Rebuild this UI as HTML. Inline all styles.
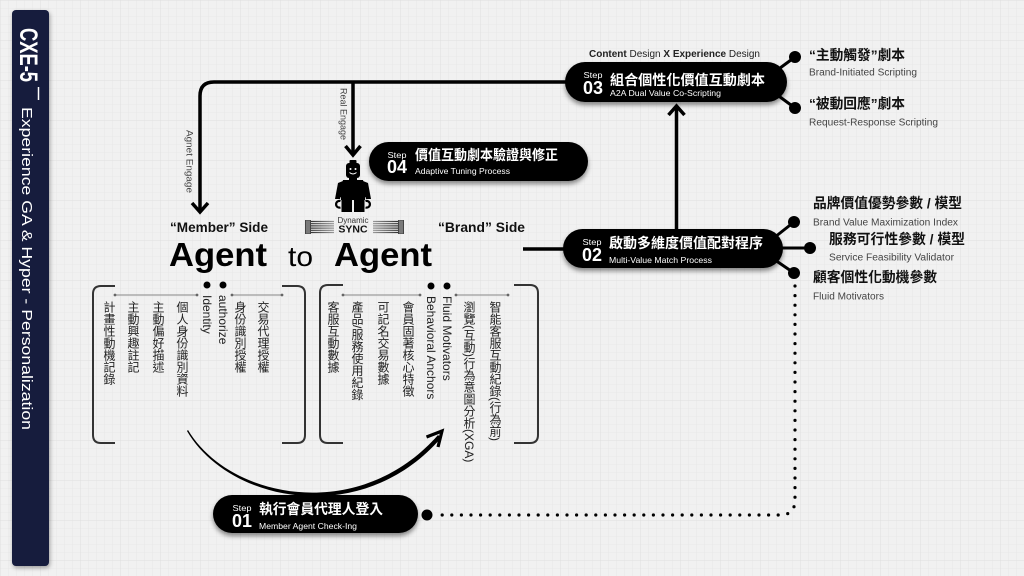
<!DOCTYPE html>
<html>
<head>
<meta charset="utf-8">
<style>
  html,body{margin:0;padding:0;background:#f0f0f0;}
  #wrap{position:relative;width:1024px;height:576px;overflow:hidden;}
  svg{position:absolute;left:0;top:0;}
  svg text{font-family:"Liberation Sans","Noto Sans CJK TC",sans-serif;}
  .v{position:absolute;writing-mode:vertical-rl;font-family:"Liberation Sans","Noto Sans CJK TC",sans-serif;font-size:12px;line-height:12px;width:12px;color:#222;white-space:nowrap;}
</style>
</head>
<body>
<div id="wrap">
<svg width="1024" height="576" viewBox="0 0 1024 576" xmlns="http://www.w3.org/2000/svg">
  <defs>
    <pattern id="g" width="8" height="8" patternUnits="userSpaceOnUse">
      <path d="M8 0H0V8" fill="none" stroke="#e2e2e2" stroke-width="0.6"/>
    </pattern>
    <pattern id="g2" width="40" height="40" patternUnits="userSpaceOnUse">
      <path d="M40 0H0V40" fill="none" stroke="#dcdcdc" stroke-width="0.7"/>
    </pattern>
    <filter id="sh" x="-20%" y="-40%" width="140%" height="190%">
      <feDropShadow dx="0" dy="3" stdDeviation="2.5" flood-color="#000" flood-opacity="0.45"/>
    </filter>
    <filter id="sh2" x="-50%" y="-5%" width="200%" height="110%">
      <feDropShadow dx="1" dy="2" stdDeviation="2" flood-color="#000" flood-opacity="0.35"/>
    </filter>
    <linearGradient id="cab" gradientUnits="userSpaceOnUse" x1="311" y1="0" x2="334" y2="0">
      <stop offset="0" stop-color="#333"/>
      <stop offset="1" stop-color="#999"/>
    </linearGradient>
    <linearGradient id="cab2" gradientUnits="userSpaceOnUse" x1="373" y1="0" x2="398" y2="0">
      <stop offset="0" stop-color="#999"/>
      <stop offset="1" stop-color="#333"/>
    </linearGradient>
  </defs>

  <rect width="1024" height="576" fill="#f1f1f1"/>
  <rect width="1024" height="576" fill="url(#g)"/>
  <rect width="1024" height="576" fill="url(#g2)"/>

  <!-- Sidebar -->
  <rect x="12" y="10" width="37" height="556" rx="4" fill="#121a3d" filter="url(#sh2)"/>
  <text transform="translate(20,28) rotate(90)" font-size="25" font-weight="bold" fill="#fff" textLength="54" lengthAdjust="spacingAndGlyphs">CXE-5</text>
  <line x1="38.5" y1="87" x2="38.5" y2="100" stroke="#fff" stroke-width="1.5"/>
  <text transform="translate(22,107) rotate(90)" font-size="15" fill="#fff" textLength="323" lengthAdjust="spacingAndGlyphs">Experience GA &amp; Hyper - Personalization</text>

  <!-- Top connector -->
  <path d="M200,211 V96 Q200,82 214,82 H568" fill="none" stroke="#000" stroke-width="3.5"/>
  <polyline points="192,203 200,212 208,203" fill="none" stroke="#000" stroke-width="3.5"/>
  <line x1="353" y1="82" x2="353" y2="154" stroke="#000" stroke-width="3.5"/>
  <polyline points="345.5,146 353,155 360.5,146" fill="none" stroke="#000" stroke-width="3.5"/>
  <text transform="translate(186.5,130) rotate(90)" font-size="9" fill="#444" textLength="63" lengthAdjust="spacingAndGlyphs">Agnet Engage</text>
  <text transform="translate(340.5,88) rotate(90)" font-size="9" fill="#444" textLength="52" lengthAdjust="spacingAndGlyphs">Real Engage</text>

  <!-- Step02 -> Step03 arrow -->
  <line x1="676.5" y1="231" x2="676.5" y2="107" stroke="#000" stroke-width="3.5"/>
  <polyline points="668.5,115 676.5,106 684.5,115" fill="none" stroke="#000" stroke-width="3.5"/>

  <!-- Step02 left line -->
  <line x1="523" y1="249" x2="566" y2="249" stroke="#000" stroke-width="3.5"/>

  <!-- Step03 right connectors -->
  <line x1="776" y1="71" x2="795" y2="57" stroke="#000" stroke-width="3"/>
  <circle cx="795" cy="57" r="6" fill="#000"/>
  <line x1="776" y1="94" x2="795" y2="108" stroke="#000" stroke-width="3"/>
  <circle cx="795" cy="108" r="6" fill="#000"/>

  <!-- Step02 right connectors -->
  <line x1="775" y1="237" x2="794" y2="222" stroke="#000" stroke-width="3"/>
  <circle cx="794" cy="222" r="6" fill="#000"/>
  <line x1="782" y1="248" x2="810" y2="248" stroke="#000" stroke-width="3"/>
  <circle cx="810" cy="248" r="6" fill="#000"/>
  <line x1="775" y1="260" x2="794" y2="273" stroke="#000" stroke-width="3"/>
  <circle cx="794" cy="273" r="6" fill="#000"/>

  <!-- Dotted line -->
  <path d="M795,286 V500 Q795,515 780,515 H434" fill="none" stroke="#000" stroke-width="3.2" stroke-linecap="round" stroke-dasharray="0 9.6"/>
  <circle cx="427" cy="515" r="5.5" fill="#000"/>

  <!-- Step pills -->
  <rect x="565" y="62" width="222" height="40" rx="20" fill="#000" filter="url(#sh)"/>
  <rect x="369" y="142" width="219" height="39" rx="19.5" fill="#000" filter="url(#sh)"/>
  <rect x="563" y="229" width="220" height="39" rx="19.5" fill="#000" filter="url(#sh)"/>
  <rect x="213" y="495" width="205" height="38" rx="19" fill="#000" filter="url(#sh)"/>

  <!-- Step 03 text -->
  <text x="589" y="51" font-size="10" fill="#222" dy="6" textLength="171" lengthAdjust="spacingAndGlyphs"><tspan font-weight="bold">Content</tspan> Design <tspan font-weight="bold">X</tspan> <tspan font-weight="bold">Experience</tspan> Design</text>
  <text x="583.5" y="78" font-size="8.5" fill="#fff" textLength="19" lengthAdjust="spacingAndGlyphs">Step</text>
  <text x="583" y="94" font-size="18" font-weight="bold" fill="#fff" textLength="20" lengthAdjust="spacingAndGlyphs">03</text>
  <text x="610" y="85" font-size="14" font-weight="bold" fill="#fff" textLength="155" lengthAdjust="spacingAndGlyphs">組合個性化價值互動劇本</text>
  <text x="610" y="96" font-size="8.5" fill="#fff" textLength="111" lengthAdjust="spacingAndGlyphs">A2A Dual Value Co-Scripting</text>

  <!-- Step 04 text -->
  <text x="387.5" y="158" font-size="8.5" fill="#fff" textLength="19" lengthAdjust="spacingAndGlyphs">Step</text>
  <text x="387" y="173" font-size="18" font-weight="bold" fill="#fff" textLength="20" lengthAdjust="spacingAndGlyphs">04</text>
  <text x="415" y="160" font-size="14" font-weight="bold" fill="#fff" textLength="143" lengthAdjust="spacingAndGlyphs">價值互動劇本驗證與修正</text>
  <text x="415" y="174" font-size="8.5" fill="#fff" textLength="95" lengthAdjust="spacingAndGlyphs">Adaptive Tuning Process</text>

  <!-- Step 02 text -->
  <text x="582.5" y="245" font-size="8.5" fill="#fff" textLength="19" lengthAdjust="spacingAndGlyphs">Step</text>
  <text x="582" y="261" font-size="18" font-weight="bold" fill="#fff" textLength="20" lengthAdjust="spacingAndGlyphs">02</text>
  <text x="609" y="248" font-size="14" font-weight="bold" fill="#fff" textLength="154" lengthAdjust="spacingAndGlyphs">啟動多維度價值配對程序</text>
  <text x="609" y="263" font-size="8.5" fill="#fff" textLength="103" lengthAdjust="spacingAndGlyphs">Multi-Value Match Process</text>

  <!-- Step 01 text -->
  <text x="232.5" y="511" font-size="8.5" fill="#fff" textLength="19" lengthAdjust="spacingAndGlyphs">Step</text>
  <text x="232" y="527" font-size="18" font-weight="bold" fill="#fff" textLength="20" lengthAdjust="spacingAndGlyphs">01</text>
  <text x="259" y="514" font-size="14" font-weight="bold" fill="#fff" textLength="124" lengthAdjust="spacingAndGlyphs">執行會員代理人登入</text>
  <text x="259" y="529" font-size="8.5" fill="#fff" textLength="98" lengthAdjust="spacingAndGlyphs">Member Agent Check-Ing</text>

  <!-- Right labels Step 03 -->
  <text x="809" y="60" font-size="14" font-weight="bold" fill="#111" textLength="96" lengthAdjust="spacingAndGlyphs">“主動觸發”劇本</text>
  <text x="809" y="75.5" font-size="10" fill="#444" textLength="108" lengthAdjust="spacingAndGlyphs">Brand-Initiated Scripting</text>
  <text x="809" y="108.5" font-size="14" font-weight="bold" fill="#111" textLength="96" lengthAdjust="spacingAndGlyphs">“被動回應”劇本</text>
  <text x="809" y="125.5" font-size="10" fill="#444" textLength="129" lengthAdjust="spacingAndGlyphs">Request-Response Scripting</text>

  <!-- Right labels Step 02 -->
  <text x="813" y="208" font-size="14" font-weight="bold" fill="#111" textLength="149" lengthAdjust="spacingAndGlyphs">品牌價值優勢參數 / 模型</text>
  <text x="813" y="225.5" font-size="10" fill="#444" textLength="145" lengthAdjust="spacingAndGlyphs">Brand Value Maximization Index</text>
  <text x="829" y="244" font-size="14" font-weight="bold" fill="#111" textLength="136" lengthAdjust="spacingAndGlyphs">服務可行性參數 / 模型</text>
  <text x="829" y="260.5" font-size="10" fill="#444" textLength="125" lengthAdjust="spacingAndGlyphs">Service Feasibility Validator</text>
  <text x="813" y="282" font-size="14" font-weight="bold" fill="#111" textLength="124" lengthAdjust="spacingAndGlyphs">顧客個性化動機參數</text>
  <text x="813" y="299.5" font-size="10" fill="#444" textLength="71" lengthAdjust="spacingAndGlyphs">Fluid Motivators</text>

  <!-- Side headings -->
  <text x="170" y="232" font-size="14" font-weight="bold" fill="#111" textLength="98" lengthAdjust="spacingAndGlyphs">“Member” Side</text>
  <text x="438" y="232" font-size="14" font-weight="bold" fill="#111" textLength="87" lengthAdjust="spacingAndGlyphs">“Brand” Side</text>

  <!-- Agent to Agent -->
  <text x="169" y="266" font-size="33" font-weight="bold" fill="#000" textLength="98" lengthAdjust="spacingAndGlyphs">Agent</text>
  <text x="288" y="266" font-size="28" fill="#000" textLength="25" lengthAdjust="spacingAndGlyphs">to</text>
  <text x="334" y="266" font-size="33" font-weight="bold" fill="#000" textLength="98" lengthAdjust="spacingAndGlyphs">Agent</text>

  <!-- Lego figure -->
  <g fill="#000">
    <rect x="349.5" y="160" width="7" height="4" rx="1"/>
    <rect x="346" y="163" width="14" height="15" rx="3"/>
    <rect x="349" y="177" width="8" height="3"/>
    <path d="M343,180 H363 L367,197 H339 Z"/>
    <path d="M343,181 L338,183 L335,199 L340,199 L343.5,187 Z"/>
    <path d="M363,181 L368,183 L371,199 L366,199 L362.5,187 Z"/>
    <rect x="341" y="196" width="24" height="4"/>
    <rect x="341.5" y="199" width="10.5" height="13"/>
    <rect x="354" y="199" width="10.5" height="13"/>
  </g>
  <path d="M340.5,201 A3.4,3.4 0 1 0 340.5,207.5" fill="none" stroke="#000" stroke-width="2.2"/>
  <path d="M365.5,201 A3.4,3.4 0 1 1 365.5,207.5" fill="none" stroke="#000" stroke-width="2.2"/>
  <circle cx="350.5" cy="169" r="1" fill="#fff"/>
  <circle cx="355.5" cy="169" r="1" fill="#fff"/>
  <path d="M349.5,172.5 Q353,175.5 356.5,172.5" fill="none" stroke="#fff" stroke-width="0.9"/>

  <!-- SYNC cables -->
  <g>
    <rect x="305" y="220" width="6" height="14" fill="#444"/>
    <line x1="307" y1="220.5" x2="307" y2="233.5" stroke="#ddd" stroke-width="0.7"/>
    <line x1="309" y1="220.5" x2="309" y2="233.5" stroke="#ddd" stroke-width="0.7"/>
    <g stroke="url(#cab)" stroke-width="1.2">
      <line x1="311" y1="221.5" x2="334" y2="221.5"/>
      <line x1="311" y1="223.7" x2="334" y2="223.7"/>
      <line x1="311" y1="225.9" x2="334" y2="225.9"/>
      <line x1="311" y1="228.1" x2="334" y2="228.1"/>
      <line x1="311" y1="230.3" x2="334" y2="230.3"/>
      <line x1="311" y1="232.5" x2="334" y2="232.5"/>
    </g>
    <rect x="398" y="220" width="6" height="14" fill="#444"/>
    <line x1="400" y1="220.5" x2="400" y2="233.5" stroke="#ddd" stroke-width="0.7"/>
    <line x1="402" y1="220.5" x2="402" y2="233.5" stroke="#ddd" stroke-width="0.7"/>
    <g stroke="url(#cab2)" stroke-width="1.2">
      <line x1="373" y1="221.5" x2="398" y2="221.5"/>
      <line x1="373" y1="223.7" x2="398" y2="223.7"/>
      <line x1="373" y1="225.9" x2="398" y2="225.9"/>
      <line x1="373" y1="228.1" x2="398" y2="228.1"/>
      <line x1="373" y1="230.3" x2="398" y2="230.3"/>
      <line x1="373" y1="232.5" x2="398" y2="232.5"/>
    </g>
  </g>
  <text x="353" y="223" font-size="8" fill="#333" text-anchor="middle">Dynamic</text>
  <text x="353" y="232.5" font-size="10.5" font-weight="bold" fill="#111" text-anchor="middle">SYNC</text>

  <!-- Brackets -->
  <g fill="none" stroke="#333" stroke-width="2">
    <path d="M115,286 H101 Q93,286 93,294 V435 Q93,443 101,443 H115"/>
    <path d="M282,286 H297 Q305,286 305,294 V435 Q305,443 297,443 H282"/>
    <path d="M343,285 H328 Q320,285 320,293 V435 Q320,443 328,443 H343"/>
    <path d="M514,285 H530 Q538,285 538,293 V435 Q538,443 530,443 H514"/>
  </g>
  <g stroke="#888" stroke-width="1">
    <line x1="115" y1="295" x2="197" y2="295"/>
    <line x1="232" y1="295" x2="282" y2="295"/>
    <line x1="343" y1="295" x2="420" y2="295"/>
    <line x1="456" y1="295" x2="508" y2="295"/>
  </g>
  <g fill="#666">
    <circle cx="115" cy="295" r="1.4"/><circle cx="197" cy="295" r="1.4"/>
    <circle cx="232" cy="295" r="1.4"/><circle cx="282" cy="295" r="1.4"/>
    <circle cx="343" cy="295" r="1.4"/><circle cx="420" cy="295" r="1.4"/>
    <circle cx="456" cy="295" r="1.4"/><circle cx="508" cy="295" r="1.4"/>
  </g>
  <g fill="#000">
    <circle cx="207" cy="285" r="3.5"/>
    <circle cx="223" cy="285" r="3.5"/>
    <circle cx="431" cy="286" r="3.5"/>
    <circle cx="447" cy="286" r="3.5"/>
  </g>

  <!-- Curved arrow -->
  <path d="M188,430 C230,500 360,524 438,435 L441,438 C362,529 229,503 187,431 Z" fill="#000"/>
  <polyline points="426.5,437 442,431 438,447" fill="none" stroke="#000" stroke-width="3.2" stroke-linejoin="miter"/>
</svg>

<!-- Left group vertical text -->
<div class="v" style="left:257px;top:301px">交易代理授權</div>
<div class="v" style="left:234px;top:301px">身份識別授權</div>
<div class="v" style="left:217px;top:295px">authorize</div>
<div class="v" style="left:201px;top:295px">Identity</div>
<div class="v" style="left:176px;top:301px">個人身份識別資料</div>
<div class="v" style="left:152px;top:301px">主動偏好描述</div>
<div class="v" style="left:127px;top:301px">主動興趣註記</div>
<div class="v" style="left:103px;top:301px">計畫性動機記錄</div>

<!-- Right group vertical text -->
<div class="v" style="left:489px;top:301px">智能客服互動紀錄(行為前)</div>
<div class="v" style="left:463px;top:301px">瀏覽(互動)行為意圖分析(XGA)</div>
<div class="v" style="left:441px;top:296px">Fluid Motivators</div>
<div class="v" style="left:425px;top:296px">Behavioral Anchors</div>
<div class="v" style="left:402px;top:301px">會員固著核心特徵</div>
<div class="v" style="left:377px;top:301px">可記名交易數據</div>
<div class="v" style="left:351px;top:301px">產品/服務使用紀錄</div>
<div class="v" style="left:327px;top:301px">客服互動數據</div>
</div>
</body>
</html>
